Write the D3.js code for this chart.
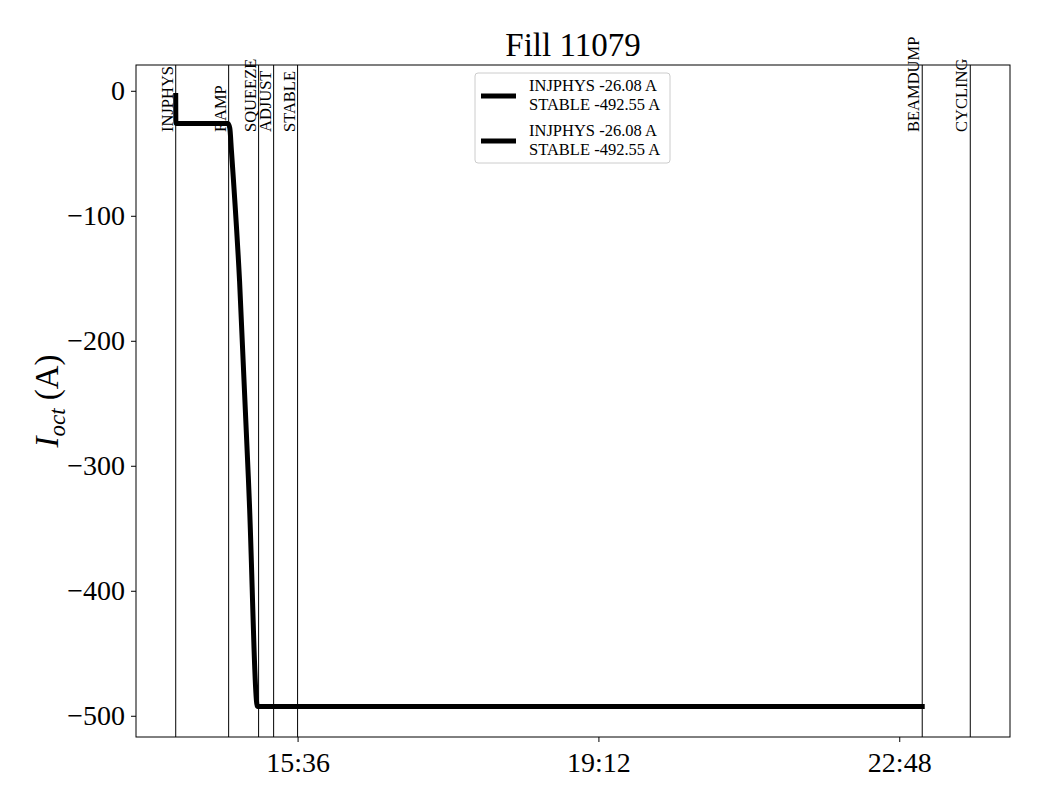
<!DOCTYPE html>
<html>
<head>
<meta charset="utf-8">
<script src="https://cdn.jsdelivr.net/npm/d3@7"></script>
<style>
  body { margin: 0; background: #fff; }
  text { font-family: "Liberation Serif", "DejaVu Serif", serif; fill: #000; }
</style>
</head>
<body>
<svg id="chart" width="1040" height="800"></svg>
<script>
// beam mode changes (vertical lines)
var phaseNames = ["INJPHYS", "RAMP", "SQUEEZE", "ADJUST", "STABLE", "BEAMDUMP", "CYCLING"];
var phaseTimes = ["14:08:30", "14:46:30", "15:08:00", "15:18:48", "15:36:00", "23:04:30", "23:39:00"];

// octupole current
var curveTimes = ["14:08:30", "14:08:36", "14:46:00", "14:47:20", "14:48:30", "14:54:20", "15:01:20", "15:07:10", "23:04:30"];
var curveValues = [-3.8, -26.08, -26.08, -30, -48, -152, -328, -492.55, -492.55];

var xTickLabels = ["15:36", "19:12", "22:48"];
var yTicks = [0, -100, -200, -300, -400, -500];
var legendLabels = [["INJPHYS -26.08 A", "STABLE -492.55 A"], ["INJPHYS -26.08 A", "STABLE -492.55 A"]];

var parse = d3.timeParse("%Y-%m-%d %H:%M:%S");
function toDate(s) { return parse("2025-08-20 " + (s.length == 5 ? s + ":00" : s)); }

var margin = {left: 136, right: 1010, top: 65, bottom: 737};
var svg = d3.select("#chart");

var tExt = d3.extent(phaseTimes.map(toDate));
var tPad = (tExt[1] - tExt[0]) * 0.05;
var x = d3.scaleTime()
  .domain([new Date(+tExt[0] - tPad), new Date(+tExt[1] + tPad)])
  .range([margin.left, margin.right]);

var vExt = d3.extent(curveValues);
var vPad = (vExt[1] - vExt[0]) * 0.05;
var y = d3.scaleLinear()
  .domain([vExt[0] - vPad, vExt[1] + vPad])
  .range([margin.bottom, margin.top]);

// phase lines + labels
phaseNames.forEach(function(name, i) {
  var px = x(toDate(phaseTimes[i]));
  svg.append("line")
    .attr("x1", px).attr("x2", px)
    .attr("y1", margin.top).attr("y2", margin.bottom)
    .attr("stroke", "#000").attr("stroke-width", 1);
  svg.append("text")
    .attr("transform", "translate(" + (px - 3) + ",132) rotate(-90)")
    .attr("font-size", "16.5px")
    .text(name);
});

// curve
var line = d3.line()
  .x(function(d, i) { return x(toDate(curveTimes[i])); })
  .y(function(d) { return y(d); })
  .curve(d3.curveMonotoneX);
svg.append("path")
  .datum(curveValues)
  .attr("d", line)
  .attr("fill", "none")
  .attr("stroke", "#000")
  .attr("stroke-width", 5)
  .attr("stroke-linecap", "square")
  .attr("stroke-linejoin", "round");

// axes
var xAxis = d3.axisBottom(x)
  .tickValues(xTickLabels.map(toDate))
  .tickFormat(d3.timeFormat("%H:%M"))
  .tickSize(5).tickPadding(6);
var gx = svg.append("g").attr("transform", "translate(0," + margin.bottom + ")").call(xAxis);

var yAxis = d3.axisLeft(y)
  .tickValues(yTicks)
  .tickFormat(function(d) { return d < 0 ? "\u2212" + (-d) : d; })
  .tickSize(5).tickPadding(6);
var gy = svg.append("g").attr("transform", "translate(" + margin.left + ",0)").call(yAxis);

[gx, gy].forEach(function(g) {
  g.select(".domain").remove();
  g.selectAll("line").attr("stroke", "#000");
  g.selectAll("text").attr("font-size", "28px").attr("font-family", "Liberation Serif").attr("fill", "#000");
});
gx.selectAll("text").attr("dy", "0.85em");

svg.append("rect")
  .attr("x", margin.left).attr("y", margin.top)
  .attr("width", margin.right - margin.left)
  .attr("height", margin.bottom - margin.top)
  .attr("fill", "none").attr("stroke", "#000").attr("stroke-width", 1);

// title
svg.append("text")
  .attr("x", (margin.left + margin.right) / 2).attr("y", 56)
  .attr("text-anchor", "middle")
  .attr("font-size", "33px")
  .text("Fill 11079");

// y label
var ylab = svg.append("text")
  .attr("transform", "translate(58," + ((margin.top + margin.bottom) / 2) + ") rotate(-90)")
  .attr("text-anchor", "middle")
  .attr("font-size", "33px");
ylab.append("tspan").attr("font-style", "italic").text("I");
ylab.append("tspan").attr("font-style", "italic").attr("font-size", "23px").attr("dy", 7).text("oct");
ylab.append("tspan").attr("dy", -7).text(" (A)");

// legend
var lg = svg.append("g").attr("transform", "translate(475,73)");
lg.append("rect")
  .attr("width", 195).attr("height", 90).attr("rx", 3)
  .attr("fill", "#fff").attr("stroke", "#ccc");
legendLabels.forEach(function(lines, i) {
  var cy = 23 + i * 45;
  lg.append("line")
    .attr("x1", 6).attr("x2", 41)
    .attr("y1", cy).attr("y2", cy)
    .attr("stroke", "#000").attr("stroke-width", 5);
  lines.forEach(function(t, j) {
    lg.append("text")
      .attr("x", 54).attr("y", cy - 5 + j * 19)
      .attr("font-size", "16.5px")
      .text(t);
  });
});
</script>
</body>
</html>
